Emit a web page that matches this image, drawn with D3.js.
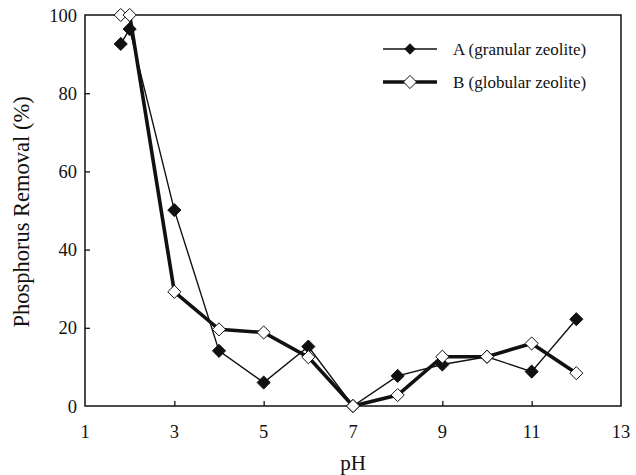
<!DOCTYPE html>
<html><head><meta charset="utf-8">
<script src="https://cdn.jsdelivr.net/npm/d3@7"></script>
</head><body style="margin:0;background:#fff">
<svg id="c" width="636" height="475" style="display:block"></svg>
<script>
const phA = [1.8, 2, 3, 4, 5, 6, 7, 8, 9, 10, 11, 12];
const removalA = [92.6, 96.4, 50.1, 14.1, 6.0, 15.2, 0, 7.7, 10.6, 12.6, 8.8, 22.2];
const phB = [1.8, 2, 3, 4, 5, 6, 7, 8, 9, 10, 11, 12];
const removalB = [100, 100, 29.2, 19.6, 18.8, 12.5, 0, 2.8, 12.6, 12.6, 16.0, 8.4];
const xTicks = [1, 3, 5, 7, 9, 11, 13];
const yTicks = [0, 20, 40, 60, 80, 100];
const seriesNames = ["A (granular zeolite)", "B (globular zeolite)"];

const FONT = "'Times New Roman', Tinos, 'Nimbus Roman', Georgia, 'Liberation Serif', serif";
const svg = d3.select("#c");
const L = 85, R = 621, T = 15, B = 406;
const x = d3.scaleLinear().domain([1, 13]).range([L, R]);
const y = d3.scaleLinear().domain([0, 100]).range([B, T]);
const ink = "#111";

svg.append("rect").attr("x", L).attr("y", T).attr("width", R - L).attr("height", B - T)
  .attr("fill", "none").attr("stroke", ink).attr("stroke-width", 1.5);

const xAxis = svg.append("g").attr("transform", `translate(0,${B})`)
  .call(d3.axisTop(x).tickValues(xTicks).tickSize(5).tickFormat(() => ""));
xAxis.select(".domain").remove();
xAxis.selectAll("line").attr("stroke", ink).attr("stroke-width", 1.3)
  .filter(d => d === 1 || d === 13).remove();
svg.append("g").selectAll("text").data(xTicks).join("text")
  .style("font-family", FONT).attr("fill", ink)
  .attr("x", d => x(d)).attr("y", 438).attr("text-anchor", "middle")
  .attr("font-size", 18.5).text(d => d);

const yAxis = svg.append("g").attr("transform", `translate(${L},0)`)
  .call(d3.axisRight(y).tickValues(yTicks).tickSize(5).tickFormat(() => ""));
yAxis.select(".domain").remove();
yAxis.selectAll("line").attr("stroke", ink).attr("stroke-width", 1.3)
  .filter(d => d === 0 || d === 100).remove();
svg.append("g").selectAll("text").data(yTicks).join("text")
  .style("font-family", FONT).attr("fill", ink)
  .attr("x", 77).attr("y", d => y(d) + 6.5).attr("text-anchor", "end")
  .attr("font-size", 18.5).text(d => d);

svg.append("text").style("font-family", FONT).attr("fill", ink)
  .attr("x", (L + R) / 2).attr("y", 470).attr("text-anchor", "middle")
  .attr("font-size", 21).text("pH");
svg.append("text").style("font-family", FONT).attr("fill", ink)
  .attr("transform", `translate(29,212) rotate(-90)`).attr("text-anchor", "middle")
  .attr("font-size", 22.5).text("Phosphorus Removal (%)");

const line = d3.line().x(d => x(d[0])).y(d => y(d[1]));
const dataA = phA.map((p, i) => [p, removalA[i]]);
const dataB = phB.map((p, i) => [p, removalB[i]]);
const diamond = d3.symbol().type(d3.symbolDiamond2).size(110);

function drawSeries(data, lw, filled) {
  svg.append("path").datum(data).attr("d", line).attr("fill", "none")
    .attr("stroke", ink).attr("stroke-width", lw).attr("stroke-linejoin", "miter");
  svg.append("g").selectAll("path").data(data).join("path")
    .attr("transform", d => `translate(${x(d[0])},${y(d[1])})`)
    .attr("d", diamond).attr("fill", filled ? ink : "#fff")
    .attr("stroke", ink).attr("stroke-width", 1);
}
drawSeries(dataA, 1.4, true);
drawSeries(dataB, 3.6, false);

const leg = [{name: seriesNames[0], lw: 1.4, filled: true, y: 49},
             {name: seriesNames[1], lw: 3.6, filled: false, y: 82}];
leg.forEach(l => {
  svg.append("line").attr("x1", 383).attr("x2", 437).attr("y1", l.y).attr("y2", l.y)
    .attr("stroke", ink).attr("stroke-width", l.lw);
  svg.append("path").attr("transform", `translate(410,${l.y})`)
    .attr("d", d3.symbol().type(d3.symbolDiamond2).size(l.filled ? 70 : 110)())
    .attr("fill", l.filled ? ink : "#fff").attr("stroke", ink).attr("stroke-width", 1);
  svg.append("text").style("font-family", FONT).attr("fill", ink)
    .attr("x", 453).attr("y", l.y + 5.5).attr("font-size", 17).text(l.name);
});
</script>
</body></html>
